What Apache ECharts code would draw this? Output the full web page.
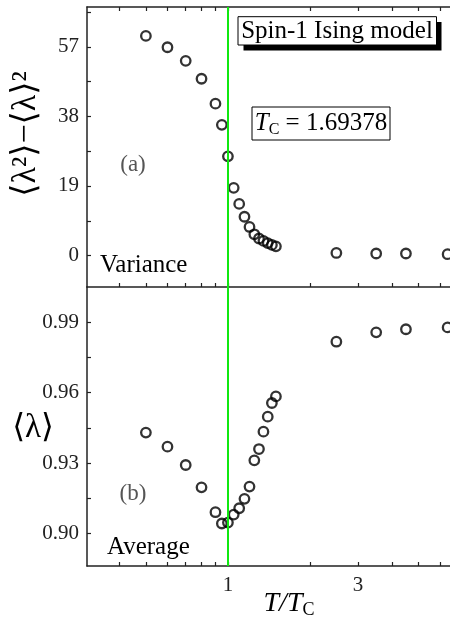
<!DOCTYPE html>
<html>
<head>
<meta charset="utf-8">
<script src="https://cdn.jsdelivr.net/npm/echarts@6/dist/echarts.min.js"></script>
<style>
  html, body { margin: 0; padding: 0; background: #fff; }
  #main { width: 450px; height: 623px; }
</style>
</head>
<body>
<div id="main"></div>
<script>
// T / Tc for every simulated temperature
const tRatio = [0.5, 0.6, 0.7, 0.8, 0.9, 0.95, 1.0, 1.05, 1.1, 1.15, 1.2, 1.25, 1.3, 1.35, 1.4, 1.45, 1.5, 2.5, 3.5, 4.5, 6.4];
// (a) variance <l^2> - <l>^2
const variance = [60.0, 56.9, 53.2, 48.3, 41.5, 35.7, 27.1, 18.5, 14.1, 10.6, 7.8, 5.8, 4.65, 4.0, 3.4, 2.9, 2.5, 0.7, 0.55, 0.55, 0.36];
// (b) average <l>
const average = [0.943, 0.937, 0.9292, 0.9197, 0.9091, 0.9043, 0.9047, 0.9081, 0.9108, 0.9148, 0.9200, 0.9312, 0.9360, 0.9434, 0.9498, 0.9556, 0.9584, 0.9817, 0.9857, 0.9870, 0.9878];

// tick marks / labels
const xTickVals = [0.4, 0.5, 0.6, 0.7, 0.8, 0.9, 1, 2, 3, 4, 5, 6];
const xLabelVals = [1, 3];
const varTicks = [0, 9.5, 19, 28.5, 38, 47.5, 57, 66.5];
const varLabels = [0, 19, 38, 57];
const avgTicks = [0.90, 0.915, 0.93, 0.945, 0.96, 0.975, 0.99];
const avgLabels = [0.90, 0.93, 0.96, 0.99];

const serif = '"Liberation Serif", "DejaVu Serif", serif';
const ink = '#222';
const green = '#10e810';

// x is drawn on a log scale
const lg = v => Math.log10(v);
const xMin = lg(0.304), xMax = lg(6.53);

var chartDom = document.getElementById('main');
var myChart = echarts.init(chartDom);

function xAxisCfg(gridIndex, position, withLabels) {
    return {
        type: 'value',
        gridIndex: gridIndex,
        position: position,
        min: xMin,
        max: xMax,
        axisLine: { show: true, onZero: false, lineStyle: { color: ink, width: 1.5 } },
        axisTick: { show: true, inside: true, length: 4, customValues: xTickVals.map(lg), lineStyle: { color: ink, width: 1.2 } },
        axisLabel: {
            show: withLabels,
            customValues: xLabelVals.map(lg),
            formatter: v => String(Math.round(Math.pow(10, v))),
            fontFamily: serif, fontSize: 21, color: ink, margin: 9
        },
        splitLine: { show: false }
    };
}

function yAxisCfg(gridIndex, min, max, ticks, labels, fmt) {
    return {
        type: 'value',
        gridIndex: gridIndex,
        min: min,
        max: max,
        axisLine: { show: true, onZero: false, lineStyle: { color: ink, width: 1.5 } },
        axisTick: { show: true, inside: true, length: 4, customValues: ticks, lineStyle: { color: ink, width: 1.2 } },
        axisLabel: { customValues: labels, formatter: fmt, fontFamily: serif, fontSize: 21, color: ink, margin: 8 },
        splitLine: { show: false }
    };
}

function scatterCfg(axisIndex, values) {
    return {
        type: 'scatter',
        xAxisIndex: axisIndex === 0 ? 0 : 2,
        yAxisIndex: axisIndex,
        data: tRatio.map((t, i) => [lg(t), values[i]]),
        symbol: 'circle',
        symbolSize: 9.5,
        clip: false,
        itemStyle: { color: 'rgba(0,0,0,0)', borderColor: '#000', borderWidth: 2.3 },
        emphasis: { disabled: true },
        markLine: {
            silent: true,
            symbol: 'none',
            label: { show: false },
            lineStyle: { color: green, width: 2, type: 'solid' },
            data: [{ xAxis: 0 }]
        }
    };
}

var option = {
    animation: false,
    backgroundColor: '#fff',
    grid: [
        { left: 87, top: 7, right: 0, height: 280 },
        { left: 87, top: 287, right: 0, height: 279 }
    ],
    xAxis: [
        xAxisCfg(0, 'bottom', false),
        xAxisCfg(0, 'top', false),
        xAxisCfg(1, 'bottom', true)
    ],
    yAxis: [
        yAxisCfg(0, -8.6, 67.9, varTicks, varLabels, v => String(v)),
        yAxisCfg(1, 0.8862, 1.005, avgTicks, avgLabels, v => v.toFixed(2))
    ],
    series: [
        scatterCfg(0, variance),
        scatterCfg(1, average)
    ],
    graphic: {
        elements: [
            // axis titles
            {
                type: 'text', x: 26, y: 134, rotation: Math.PI / 2,
                style: {
                    text: '⟨λ²⟩−⟨λ⟩²', font: '34px ' + serif, fill: '#000',
                    align: 'center', verticalAlign: 'middle'
                }
            },
            {
                type: 'text', x: 33, y: 428,
                style: {
                    text: '⟨λ⟩', font: '33px ' + serif, fill: '#000',
                    align: 'center', verticalAlign: 'middle'
                }
            },
            {
                type: 'text', x: 289, y: 604,
                style: {
                    text: '{t|T/T}{s|C}', align: 'center', verticalAlign: 'middle',
                    rich: {
                        t: { font: 'italic 28px ' + serif, fill: '#000', lineHeight: 30 },
                        s: { font: '18px ' + serif, fill: '#000', lineHeight: 10, verticalAlign: 'bottom' }
                    }
                }
            },
            // panel tags
            { type: 'text', x: 133, y: 165, style: { text: '(a)', font: '23px ' + serif, fill: '#555', align: 'center', verticalAlign: 'middle' } },
            { type: 'text', x: 133, y: 494, style: { text: '(b)', font: '23px ' + serif, fill: '#555', align: 'center', verticalAlign: 'middle' } },
            { type: 'text', x: 100, y: 265, style: { text: 'Variance', font: '25px ' + serif, fill: '#000', align: 'left', verticalAlign: 'middle' } },
            { type: 'text', x: 107, y: 547, style: { text: 'Average', font: '25px ' + serif, fill: '#000', align: 'left', verticalAlign: 'middle' } },
            // model box with drop shadow
            { type: 'rect', shape: { x: 243.5, y: 22, width: 198, height: 28.5 }, style: { fill: '#000' }, z: 100 },
            { type: 'rect', shape: { x: 238, y: 16.7, width: 198.5, height: 28.3 }, style: { fill: '#fff', stroke: '#000', lineWidth: 1 }, z: 101 },
            { type: 'text', x: 337, y: 31, z: 102, style: { text: 'Spin-1 Ising model', font: '25px ' + serif, fill: '#000', align: 'center', verticalAlign: 'middle' } },
            // critical temperature box
            { type: 'rect', shape: { x: 252, y: 107, width: 138, height: 33 }, style: { fill: '#fff', stroke: '#000', lineWidth: 1 }, z: 101 },
            {
                type: 'text', x: 321, y: 123.5, z: 102,
                style: {
                    text: '{t|T}{s|C}{n| = 1.69378}', align: 'center', verticalAlign: 'middle',
                    rich: {
                        t: { font: 'italic 25px ' + serif, fill: '#000', lineHeight: 28 },
                        s: { font: '16px ' + serif, fill: '#000', lineHeight: 10, verticalAlign: 'bottom' },
                        n: { font: '25px ' + serif, fill: '#000', lineHeight: 28 }
                    }
                }
            }
        ]
    }
};

myChart.setOption(option);
</script>
</body>
</html>
